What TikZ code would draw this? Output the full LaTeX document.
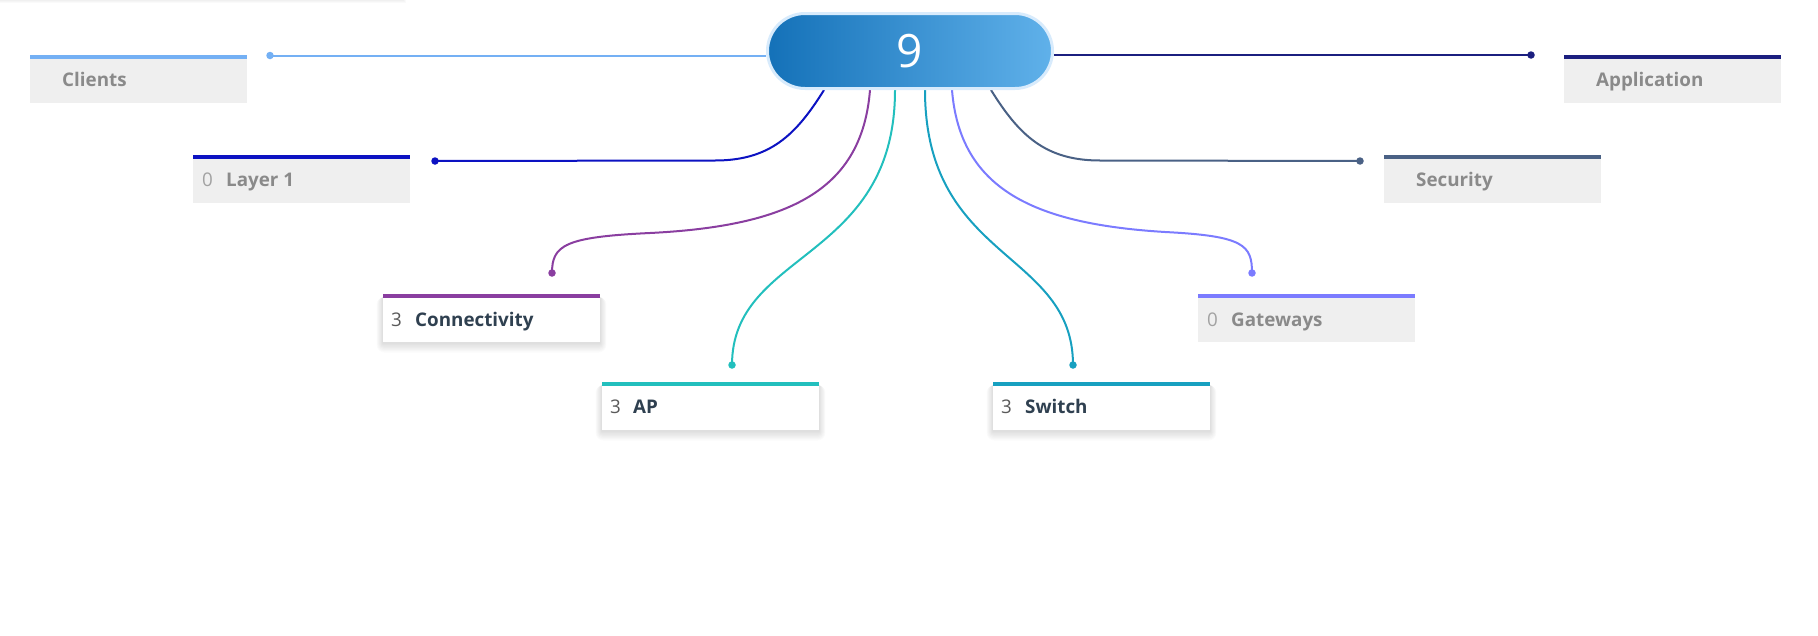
\documentclass[tikz,border=0pt]{standalone}
\usepackage{fontspec}
\setmainfont{Open Sans}
\usetikzlibrary{calc,backgrounds}

% category colours
\definecolor{cClients}{HTML}{74B0F4}
\definecolor{cApp}{HTML}{1B1F7F}
\definecolor{cLayer}{HTML}{0C12C2}
\definecolor{cSec}{HTML}{4A6185}
\definecolor{cConn}{HTML}{8A3EA0}
\definecolor{cGate}{HTML}{7B7BFF}
\definecolor{cAP}{HTML}{22BFBD}
\definecolor{cSw}{HTML}{17A0C0}
% neutrals
\definecolor{boxgray}{HTML}{EFEFEF}
\definecolor{txtgray}{HTML}{8A8A8A}
\definecolor{cntgray}{HTML}{A2A2A2}
\definecolor{txtdark}{HTML}{2F4050}
\definecolor{cntdark}{HTML}{5A5A5A}
\definecolor{hubL}{HTML}{1471B8}
\definecolor{hubR}{HTML}{60B1EA}
\definecolor{hubRim}{HTML}{D8EBFC}

\tikzset{
  catbox/.style={rectangle, anchor=north west, minimum width=217pt,
    minimum height=48pt, inner sep=0pt, outer sep=0pt},
  graybox/.style={catbox, fill=boxgray},
  whitebox/.style={catbox, fill=white},
  topbar/.style={line width=4pt},
  conn/.style={line width=2pt},
  dot/.style={circle, fill=#1, minimum size=7.5pt, inner sep=0pt},
  lbl/.style={anchor=base west, inner sep=0pt,
    font=\fontsize{18.8}{21}\selectfont\bfseries},
  cnt/.style={anchor=base west, inner sep=0pt,
    font=\fontsize{18.8}{21}\selectfont},
  hub/.style={rectangle, rounded corners=37.5pt, minimum width=285pt,
    minimum height=75pt, line width=3pt, draw=hubRim,
    left color=hubL, right color=hubR, text=white,
    font=\fontsize{46}{50}\selectfont},
}

\begin{document}
\begin{tikzpicture}[x=1pt,y=-1pt]
\useasboundingbox (0,0) rectangle (1818,635);

% hub
\node[hub] (hub) at (910,51) {9};

% category boxes
\node[graybox]  (bClients) at (30,55)   {};
\node[graybox]  (bApp)     at (1564,55) {};
\node[graybox]  (bLayer)   at (193,155) {};
\node[graybox]  (bSec)     at (1384,155) {};
\node[whitebox] (bConn)    at (383,294) {};
\node[graybox]  (bGate)    at (1198,294) {};
\node[whitebox] (bAP)      at (602,382) {};
\node[whitebox] (bSw)      at (993,382) {};

% coloured top bars
\foreach \b/\c in {bClients/cClients, bApp/cApp, bLayer/cLayer, bSec/cSec,
                   bConn/cConn, bGate/cGate, bAP/cAP, bSw/cSw}
  \draw[topbar, \c] ([yshift=-2pt]\b.north west) -- ([yshift=-2pt]\b.north east);

% labels and counts
\node[lbl, text=txtgray] (tClients) at ($(bClients.north west)+(32,31)$) {Clients};
\node[lbl, text=txtgray] (tApp)     at ($(bApp.north west)+(32,31)$) {Application};
\node[cnt, text=cntgray] (nLayer)   at ($(bLayer.north west)+(9,31)$) {0};
\node[lbl, text=txtgray] (tLayer)   at ($(bLayer.north west)+(33,31)$) {Layer 1};
\node[lbl, text=txtgray] (tSec)     at ($(bSec.north west)+(32,31)$) {Security};
\node[cnt, text=cntdark] (nConn)    at ($(bConn.north west)+(8,32)$) {3};
\node[lbl, text=txtdark] (tConn)    at ($(bConn.north west)+(32,32)$) {Connectivity};
\node[cnt, text=cntgray] (nGate)    at ($(bGate.north west)+(9,32)$) {0};
\node[lbl, text=txtgray] (tGate)    at ($(bGate.north west)+(33,32)$) {Gateways};
\node[cnt, text=cntdark] (nAP)      at ($(bAP.north west)+(8,31)$) {3};
\node[lbl, text=txtdark] (tAP)      at ($(bAP.north west)+(31,31)$) {AP};
\node[cnt, text=cntdark] (nSw)      at ($(bSw.north west)+(8,31)$) {3};
\node[lbl, text=txtdark] (tSw)      at ($(bSw.north west)+(32,31)$) {Switch};

% connector end dots
\node[dot=cClients] (dClients) at (270,55.5) {};
\node[dot=cApp]     (dApp)     at (1531,55) {};
\node[dot=cLayer]   (dLayer)   at (435,161) {};
\node[dot=cSec]     (dSec)     at (1360,161) {};
\node[dot=cConn]    (dConn)    at (552,273) {};
\node[dot=cGate]    (dGate)    at (1252,273) {};
\node[dot=cAP]      (dAP)      at (732,365) {};
\node[dot=cSw]      (dSw)      at (1073,365) {};

\begin{pgfonlayer}{background}
  % soft shadow of a panel above the top edge
  \foreach \i in {1,...,6}
    \fill[black, opacity=0.018] (-10,-60) rectangle (400+\i,-3+\i);
  % soft shadows under the white boxes
  \foreach \b in {bConn, bAP, bSw}
    \foreach \i in {1,...,8}
      \fill[black, opacity=0.014, rounded corners=\i pt]
        ($(\b.north west)+(-0.8*\i,3)$) rectangle ($(\b.south east)+(0.8*\i,1.2*\i+1)$);

  % connectors from the hub
  \draw[conn, cClients] (dClients.center) -- (dClients.center -| hub.west);
  \draw[conn, cApp] (dApp.center) -- (dApp.center -| hub.east);
  \draw[conn, cLayer] ([xshift=-86pt]hub.south)
     .. controls +(-28,45) and +(55,0) .. (715,160.5) -- (dLayer.center);
  \draw[conn, cSec] ([xshift=81pt]hub.south)
     .. controls +(28,45) and +(-55,0) .. (1100,160.5) -- (dSec.center);
  \draw[conn, cConn] ([xshift=-40pt]hub.south)
     .. controls +(-8,100) and +(140,-7) .. (650,233)
     .. controls +(-85,4) and +(0,-28) .. (dConn.center);
  \draw[conn, cGate] ([xshift=42pt]hub.south)
     .. controls +(8,100) and +(-130,-8) .. (1165,232)
     .. controls +(79,4) and +(0,-28) .. (dGate.center);
  \draw[conn, cAP] ([xshift=-15pt]hub.south)
     .. controls +(0,172) and +(0,-115) .. (dAP.center);
  \draw[conn, cSw] ([xshift=15pt]hub.south)
     .. controls +(0,172) and +(0,-115) .. (dSw.center);
\end{pgfonlayer}
\end{tikzpicture}
\end{document}
